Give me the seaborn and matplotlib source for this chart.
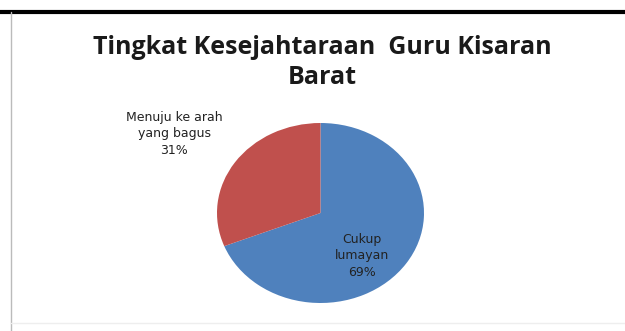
import matplotlib
matplotlib.use("Agg")
import matplotlib.pyplot as plt
import seaborn as sns
from matplotlib.lines import Line2D

sns.set_theme(style="white")
plt.rcParams['font.family'] = ['Open Sans', 'DejaVu Sans']

categories = ["Cukup\nlumayan", "Menuju ke arah\nyang bagus"]
values = [69, 31]
colors = ["#4F81BD", "#C0504D"]
title = "Tingkat Kesejahtaraan  Guru Kisaran\nBarat"

W, H = 625, 331
fig = plt.figure(figsize=(W / 100, H / 100), dpi=100)
fig.patch.set_facecolor("white")

# frame lines
fig.add_artist(Line2D([0, 1], [1 - 12 / H, 1 - 12 / H], color="black", lw=3, transform=fig.transFigure))
fig.add_artist(Line2D([11 / W, 11 / W], [0, 1 - 12 / H], color="#BBBBBB", lw=1, transform=fig.transFigure))
fig.add_artist(Line2D([11 / W, 1], [8 / H, 8 / H], color="#EEEEEE", lw=1, transform=fig.transFigure))

fig.text(322 / W, 1 - 62.5 / H, title, ha="center", va="center", fontsize=18,
         fontweight="bold", color="#1a1a1a", linespacing=1.27)

# pie axes: x 217..424, y 123..303
ax = fig.add_axes([217 / W, 1 - 303 / H, 207 / W, 180 / H])
wedges, _ = ax.pie(values, colors=colors, startangle=90, counterclock=False,
                   wedgeprops=dict(linewidth=0))
ax.set_aspect("auto")
ax.set_xlim(-1, 1)
ax.set_ylim(-1, 1)
ax.axis("off")

labels = [f"{c}\n{v}%" for c, v in zip(categories, values)]
fig.text(362 / W, 1 - 256 / H, labels[0], ha="center", va="center", fontsize=9,
         family="DejaVu Sans", color="#222222", linespacing=1.4)
fig.text(174 / W, 1 - 134 / H, labels[1], ha="center", va="center", fontsize=9,
         family="DejaVu Sans", color="#222222", linespacing=1.4)

fig.savefig("out.png", dpi=100, facecolor="white")
